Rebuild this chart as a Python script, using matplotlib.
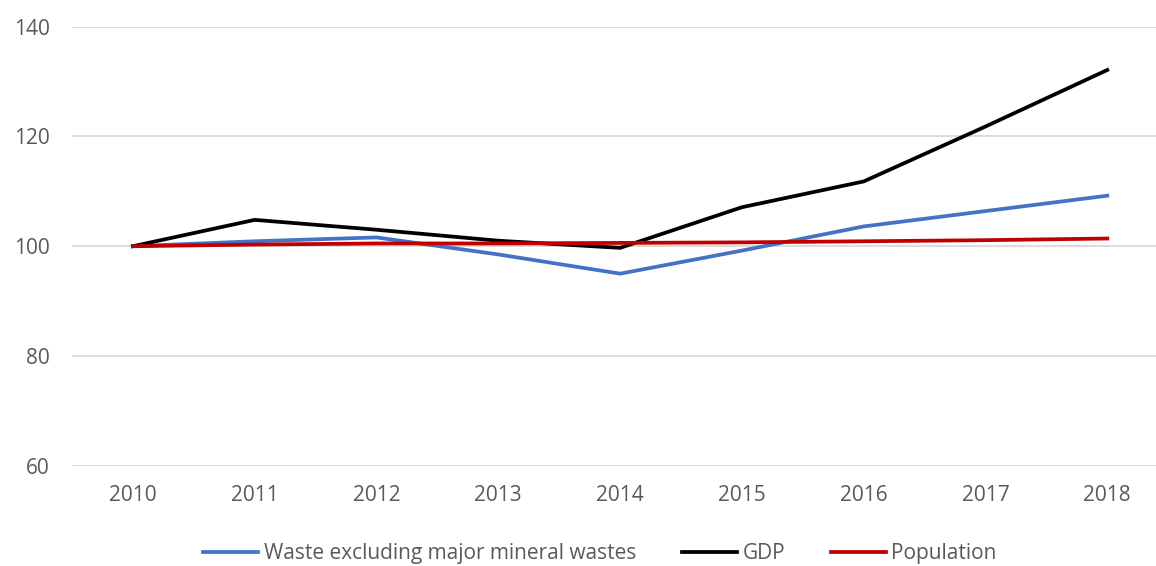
import matplotlib
matplotlib.use("Agg")
import matplotlib.pyplot as plt

# index, 2010 = 100
years = [2010, 2011, 2012, 2013, 2014, 2015, 2016, 2017, 2018]
waste = [100, 100.9, 101.6, 98.5, 95.0, 99.2, 103.6, 106.4, 109.2]
gdp = [100, 104.8, 103.0, 101.0, 99.7, 107.1, 111.8, 121.8, 132.1]
population = [100, 100.3, 100.5, 100.5, 100.6, 100.7, 100.9, 101.1, 101.4]

plt.rcParams['font.family'] = ['Open Sans', 'DejaVu Sans']

fig = plt.figure(figsize=(11.56, 5.66), dpi=100)
ax = fig.add_axes([0.0623, 0.177, 0.9377, 0.776])

ax.plot(years, waste, color='#4472C4', lw=2.7, label='Waste excluding major mineral wastes')
ax.plot(years, gdp, color='black', lw=2.7, label='GDP')
ax.plot(years, population, color='#C00000', lw=2.7, label='Population')

ax.set_ylim(60, 140)
ax.set_xlim(2009.5, 2018.4)
ax.set_yticks([60, 80, 100, 120, 140])
ax.set_xticks(years)
ax.grid(axis='y', color='#d9d9d9', lw=1.3)
ax.set_axisbelow(True)
for s in ax.spines.values():
    s.set_visible(False)
ax.tick_params(length=0, labelsize=15, colors='#595959')
ax.tick_params(axis='x', pad=14)
ax.tick_params(axis='y', pad=16)

ax.legend(loc='center', bbox_to_anchor=(0.487, -0.2), ncol=3, frameon=False,
          fontsize=15, labelcolor='#595959', handlelength=2.65, handletextpad=0.25,
          columnspacing=2.2)

fig.savefig('out.png', dpi=100)
